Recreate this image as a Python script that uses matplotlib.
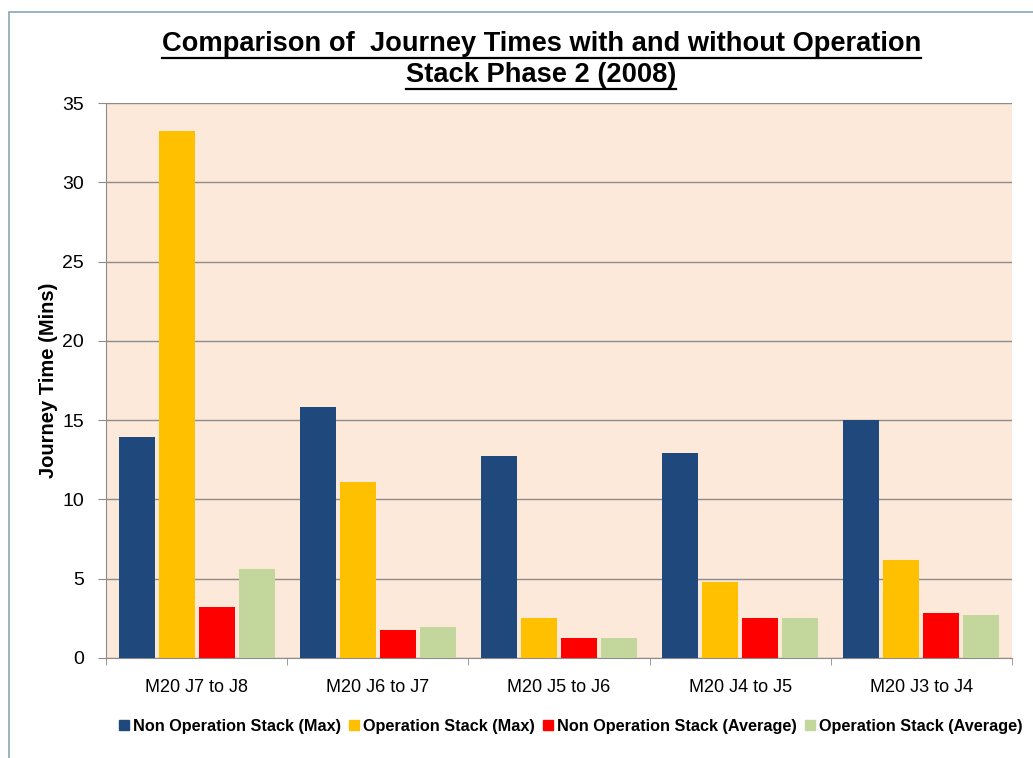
import numpy as np
import matplotlib
matplotlib.use("Agg")
import matplotlib.pyplot as plt
from matplotlib.patches import Rectangle
from matplotlib.lines import Line2D

plt.rcParams['font.family'] = ['Liberation Sans', 'DejaVu Sans']

# data
categories = ['M20 J7 to J8', 'M20 J6 to J7', 'M20 J5 to J6', 'M20 J4 to J5', 'M20 J3 to J4']
series_names = ['Non Operation Stack (Max)', 'Operation Stack (Max)',
                'Non Operation Stack (Average)', 'Operation Stack (Average)']
non_op_max = [13.95, 15.85, 12.75, 12.95, 15.0]
op_max = [33.25, 11.1, 2.55, 4.8, 6.2]
non_op_avg = [3.2, 1.75, 1.25, 2.5, 2.85]
op_avg = [5.6, 1.95, 1.25, 2.5, 2.7]
colors = ['#1F497D', '#FFC000', '#FF0000', '#C3D69B']

fig = plt.figure(figsize=(10.33, 7.58), dpi=100)
ax = fig.add_axes([106/1033, 1 - 658/758, (1012 - 106)/1033, (658 - 103)/758])
ax.set_facecolor('#FCE9DA')

x = np.arange(len(categories))
step = 0.221
width = 0.199
for i, (vals, c) in enumerate(zip([non_op_max, op_max, non_op_avg, op_avg], colors)):
    ax.bar(x + (i - 1.5) * step, vals, width, color=c, zorder=3)

ax.set_xlim(-0.5, 4.5)
ax.set_ylim(0, 35)
ax.set_yticks(np.arange(0, 36, 5))
ax.yaxis.grid(True, color='#8c8c8c', linewidth=1, zorder=0)
ax.set_xticks(x)
ax.set_xticklabels(categories, fontsize=13)
ax.set_xticks(np.arange(-0.5, 5, 1), minor=True)
ax.tick_params(axis='x', which='major', length=0, pad=15)
ax.tick_params(axis='x', which='minor', length=5, color='#8c8c8c')
ax.tick_params(axis='y', length=6, color='#8c8c8c', labelsize=14, pad=10)
for s in ['top', 'right']:
    ax.spines[s].set_visible(False)
for s in ['left', 'bottom']:
    ax.spines[s].set_color('#8c8c8c')

ax.set_ylabel('Journey Time (Mins)', fontsize=14.5, fontweight='bold', labelpad=3)

t1 = fig.text(0.524, 1 - 44/758, 'Comparison of  Journey Times with and without Operation',
              ha='center', va='center', fontsize=19.6, fontweight='bold')
t2 = fig.text(0.524, 1 - 75/758, 'Stack Phase 2 (2008)',
              ha='center', va='center', fontsize=19.6, fontweight='bold')

handles = [Line2D([], [], marker='s', linestyle='none', markersize=7,
                  markerfacecolor=c, markeredgecolor=c) for c in colors]
fig.legend(handles, series_names, loc='center', bbox_to_anchor=(0.551, 1 - 726/758),
           ncol=4, frameon=False, handletextpad=0.05, columnspacing=0.3,
           handlelength=1.0, prop={'weight': 'bold', 'size': 11.7})

# underline the title lines
fig.canvas.draw()
r = fig.canvas.get_renderer()
for t in (t1, t2):
    bb = t.get_window_extent(r)
    yl = bb.y0 - 1
    fig.add_artist(Line2D([bb.x0 / 1033, bb.x1 / 1033], [yl / 758, yl / 758],
                          transform=fig.transFigure, color='black', linewidth=1.6))

# outer border of the slide frame
fig.patches.append(Rectangle((9/1033, -0.05), 1.1, 1 - 12/758 + 0.05,
                             transform=fig.transFigure, fill=False,
                             edgecolor='#8AA5B5', linewidth=1.2))

fig.savefig('out.png', dpi=100)
